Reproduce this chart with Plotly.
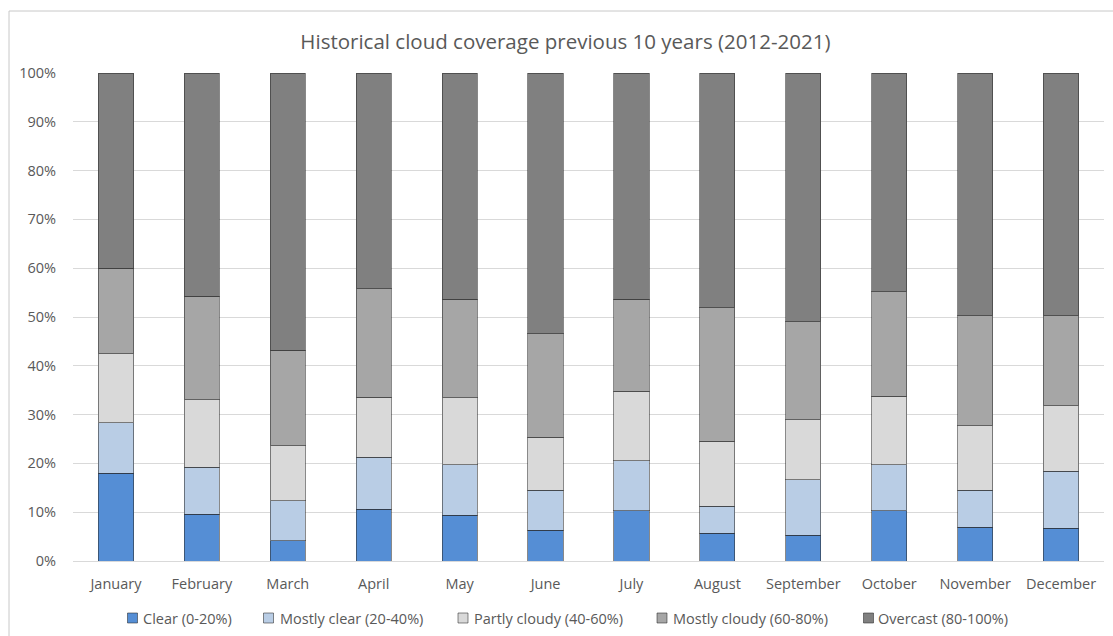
import plotly.graph_objects as go

months = ["January", "February", "March", "April", "May", "June",
          "July", "August", "September", "October", "November", "December"]

clear = [18.0, 9.6, 4.2, 10.6, 9.4, 6.3, 10.3, 5.7, 5.3, 10.3, 6.9, 6.7]
mostly_clear = [10.3, 9.6, 8.1, 10.7, 10.3, 8.2, 10.2, 5.5, 11.3, 9.4, 7.6, 11.7]
partly_cloudy = [14.2, 13.8, 11.3, 12.3, 13.8, 10.9, 14.3, 13.3, 12.3, 14.1, 13.2, 13.4]
mostly_cloudy = [17.5, 21.3, 19.6, 22.2, 20.1, 21.2, 18.8, 27.4, 20.1, 21.4, 22.6, 18.5]
overcast = [40.0, 45.7, 56.8, 44.2, 46.4, 53.4, 46.4, 48.1, 51.0, 44.8, 49.7, 49.7]

series_names = ["Clear (0-20%)", "Mostly clear (20-40%)", "Partly cloudy (40-60%)",
                "Mostly cloudy (60-80%)", "Overcast (80-100%)"]
series_values = [clear, mostly_clear, partly_cloudy, mostly_cloudy, overcast]
series_colors = ["#558ED5", "#B9CDE5", "#D9D9D9", "#A6A6A6", "#808080"]

W, H = 1113, 636
L, R, T, B = 73, 9, 73, 75
plot_w, plot_h = W - L - R, H - T - B


def px_x(px):
    return (px - L) / plot_w


def px_y(py):
    return (H - B - py) / plot_h


font_family = "Open Sans, Liberation Sans, sans-serif"
text_color = "#595959"
edge = "rgba(40,40,40,0.55)"

fig = go.Figure()
for name, vals, color in zip(series_names, series_values, series_colors):
    fig.add_trace(go.Bar(
        x=months, y=[v / 100 for v in vals], name=name,
        marker=dict(color=color, line=dict(color=edge, width=1)),
        showlegend=False,
    ))

fig.update_layout(
    barmode="stack",
    bargap=0.59,
    width=W, height=H,
    paper_bgcolor="white", plot_bgcolor="white",
    margin=dict(l=L, r=R, t=T, b=B),
    title=dict(text="Historical cloud coverage previous 10 years (2012-2021)",
               xref="container", x=0.508, xanchor="center",
               yref="container", y=1 - 42 / H, yanchor="middle",
               font=dict(family=font_family, size=20.5, color=text_color)),
    font=dict(family=font_family, size=14.5, color=text_color),
    showlegend=False,
)
fig.update_yaxes(range=[0, 1], tickformat=".0%", dtick=0.1,
                 gridcolor="#D9D9D9", gridwidth=1, zeroline=False,
                 showline=False, ticks="", ticklabelstandoff=16,
                 tickfont=dict(size=14.5, color=text_color))
fig.update_xaxes(showline=True, linecolor="#D9D9D9", linewidth=1, ticks="",
                 ticklabelstandoff=10, tickfont=dict(size=14.5, color=text_color))

# legend row below the axis: swatch + label per series
swatch_left = [127.5, 263.5, 458, 657, 863.5]
label_left = [141, 277.5, 472, 671, 876]
legend_y = 618
for name, color, sx, lx in zip(series_names, series_colors, swatch_left, label_left):
    fig.add_shape(type="rect", xref="paper", yref="paper",
                  x0=px_x(sx), x1=px_x(sx + 10), y0=px_y(legend_y + 5), y1=px_y(legend_y - 5),
                  fillcolor=color, line=dict(color=edge, width=1))
    fig.add_annotation(text=name, xref="paper", yref="paper",
                       x=px_x(lx), y=px_y(legend_y), xanchor="left", yanchor="middle",
                       showarrow=False, font=dict(size=14.5, color=text_color))

# outer chart frame
fig.add_shape(type="rect", xref="paper", yref="paper",
              x0=px_x(9), x1=px_x(W + 20), y0=px_y(H + 20), y1=px_y(11),
              line=dict(color="#C8C8C8", width=1), layer="below")

fig.write_html("out.html")
